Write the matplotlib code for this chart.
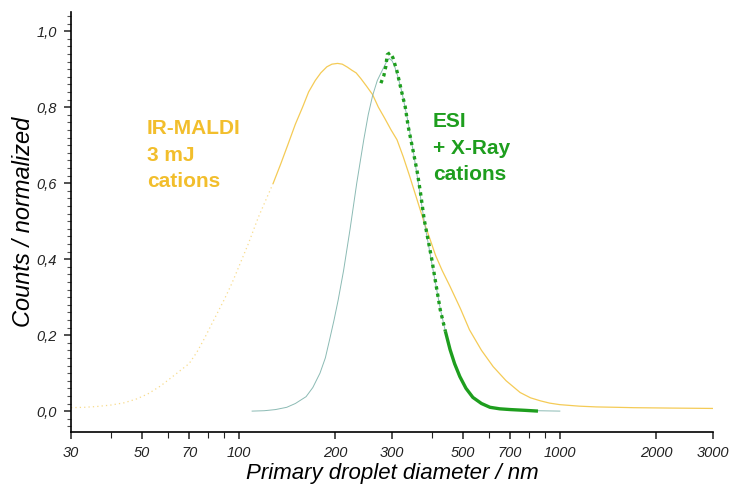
import matplotlib.pyplot as plt
from matplotlib.ticker import FixedLocator, FuncFormatter, MultipleLocator
import numpy as np

plt.rcParams['font.family'] = ['Liberation Sans', 'DejaVu Sans']

# IR-MALDI 3 mJ, cations
maldi_d = np.array([30, 33, 36, 40, 44, 48, 52, 57, 62, 66, 70, 74, 78, 83, 90, 95, 100, 107,
                    115, 122, 128, 135, 142, 150, 158, 165, 173, 180, 188, 195, 203, 210, 218,
                    225, 232, 240, 250, 261, 272, 285, 298, 311, 325, 340, 358, 378, 395, 410,
                    430, 455, 490, 523, 570, 620, 680, 752, 810, 870, 930, 1000, 1150, 1300,
                    1500, 1700, 2200, 3000])
maldi_c = np.array([0.009, 0.010, 0.012, 0.016, 0.022, 0.032, 0.045, 0.066, 0.090, 0.108,
                    0.125, 0.155, 0.19, 0.235, 0.293, 0.335, 0.38, 0.44, 0.51, 0.56, 0.60,
                    0.65, 0.70, 0.755, 0.80, 0.84, 0.87, 0.89, 0.906, 0.913, 0.915, 0.913,
                    0.905, 0.897, 0.89, 0.875, 0.855, 0.833, 0.80, 0.77, 0.74, 0.714, 0.67,
                    0.62, 0.56, 0.496, 0.45, 0.41, 0.37, 0.328, 0.27, 0.214, 0.16, 0.117,
                    0.08, 0.049, 0.035, 0.027, 0.021, 0.017, 0.013, 0.011, 0.010, 0.009,
                    0.008, 0.007])

# ESI + X-Ray, cations: measured points
esi_d = np.array([277, 283, 287, 290, 296, 302, 311, 322, 330, 337, 350, 360, 368, 378, 399,
                  410, 424, 440, 455, 470, 488, 510, 536, 570, 606, 650, 702, 780, 855])
esi_c = np.array([0.863, 0.883, 0.907, 0.938, 0.943, 0.93, 0.894, 0.838, 0.80, 0.749, 0.68,
                  0.627, 0.575, 0.504, 0.40, 0.34, 0.267, 0.21, 0.162, 0.125, 0.091, 0.06,
                  0.036, 0.02, 0.01, 0.006, 0.004, 0.002, 0.0])

# ESI fit
fit_d = np.array([110, 120, 130, 141, 150, 162, 170, 179, 186, 192, 198, 204, 212, 222, 233,
                  245, 253, 261, 270, 281, 288, 294, 300, 305, 313, 322, 335, 350, 364, 378,
                  400, 424, 440, 455, 470, 488, 510, 536, 570, 606, 650, 700, 850, 1000])
fit_c = np.array([0.0, 0.001, 0.004, 0.01, 0.02, 0.038, 0.062, 0.10, 0.14, 0.19, 0.24, 0.293,
                  0.37, 0.478, 0.60, 0.714, 0.78, 0.83, 0.87, 0.90, 0.918, 0.928, 0.922, 0.91,
                  0.88, 0.84, 0.77, 0.68, 0.59, 0.50, 0.385, 0.27, 0.21, 0.16, 0.12, 0.09,
                  0.06, 0.036, 0.02, 0.01, 0.005, 0.003, 0.001, 0.0])

x_major = [30, 50, 70, 100, 200, 300, 500, 700, 1000, 2000, 3000]
x_minor = [40, 60, 80, 90, 400, 600, 800, 900]

YELLOW = '#F2BE2C'
GREEN = '#1E9E1E'
TEAL = '#7FB3AC'

fig = plt.figure(figsize=(7.32, 4.94), dpi=100)
ax = fig.add_axes([0.097, 0.1255, 0.877, 0.85])

# sparse (dotted) at small diameters, solid further right
m = maldi_d <= 128
ax.plot(maldi_d[m], maldi_c[m], color=YELLOW, lw=0.9, ls=(0, (1, 2.5)), alpha=0.55)
m = maldi_d >= 128
ax.plot(maldi_d[m], maldi_c[m], color=YELLOW, lw=0.9, alpha=0.8)

ax.plot(fit_d, fit_c, color=TEAL, lw=0.7, alpha=0.9)

m = esi_d <= 440
ax.plot(esi_d[m], esi_c[m], color=GREEN, lw=2.4, ls=(0, (1, 1.2)))
m = esi_d >= 440
ax.plot(esi_d[m], esi_c[m], color=GREEN, lw=2.4, solid_capstyle='butt')

ax.set_xscale('log')
ax.set_xlim(30, 3000)
ax.set_ylim(-0.055, 1.05)

ax.xaxis.set_major_locator(FixedLocator(x_major))
ax.xaxis.set_minor_locator(FixedLocator(x_minor))
ax.xaxis.set_major_formatter(FuncFormatter(lambda v, p: f'{v:.0f}'))
ax.xaxis.set_minor_formatter(FuncFormatter(lambda v, p: ''))
ax.yaxis.set_major_locator(FixedLocator([0, 0.2, 0.4, 0.6, 0.8, 1.0]))
ax.yaxis.set_minor_locator(MultipleLocator(0.02))
ax.yaxis.set_major_formatter(FuncFormatter(lambda v, p: f'{v:.1f}'.replace('.', ',')))

for s in ['top', 'right']:
    ax.spines[s].set_visible(False)
for s in ['left', 'bottom']:
    ax.spines[s].set_linewidth(1.2)

ax.tick_params(which='major', direction='out', length=5, width=1.1, labelsize=10.5,
               colors='#222222')
ax.tick_params(which='minor', direction='out', length=3, width=0.8, colors='#555555')
ax.tick_params(axis='x', which='major', pad=5)
ax.tick_params(axis='x', which='minor', length=4, colors='#222222')
ax.tick_params(axis='y', which='major', pad=5)
for lab in ax.get_xticklabels() + ax.get_yticklabels():
    lab.set_style('italic')

ax.set_xlabel('Primary droplet diameter / nm', fontsize=16, style='italic', labelpad=2)
ax.set_ylabel('Counts / normalized', fontsize=17, style='italic', labelpad=1)

ax.text(0.118, 0.745, 'IR-MALDI\n3 mJ\ncations', transform=ax.transAxes, color=YELLOW,
        fontsize=15, fontweight='bold', va='top', ha='left', linespacing=1.5)
ax.text(0.564, 0.761, 'ESI\n+ X-Ray\ncations', transform=ax.transAxes, color=GREEN,
        fontsize=15, fontweight='bold', va='top', ha='left', linespacing=1.5)

fig.savefig('out.png', dpi=100)
